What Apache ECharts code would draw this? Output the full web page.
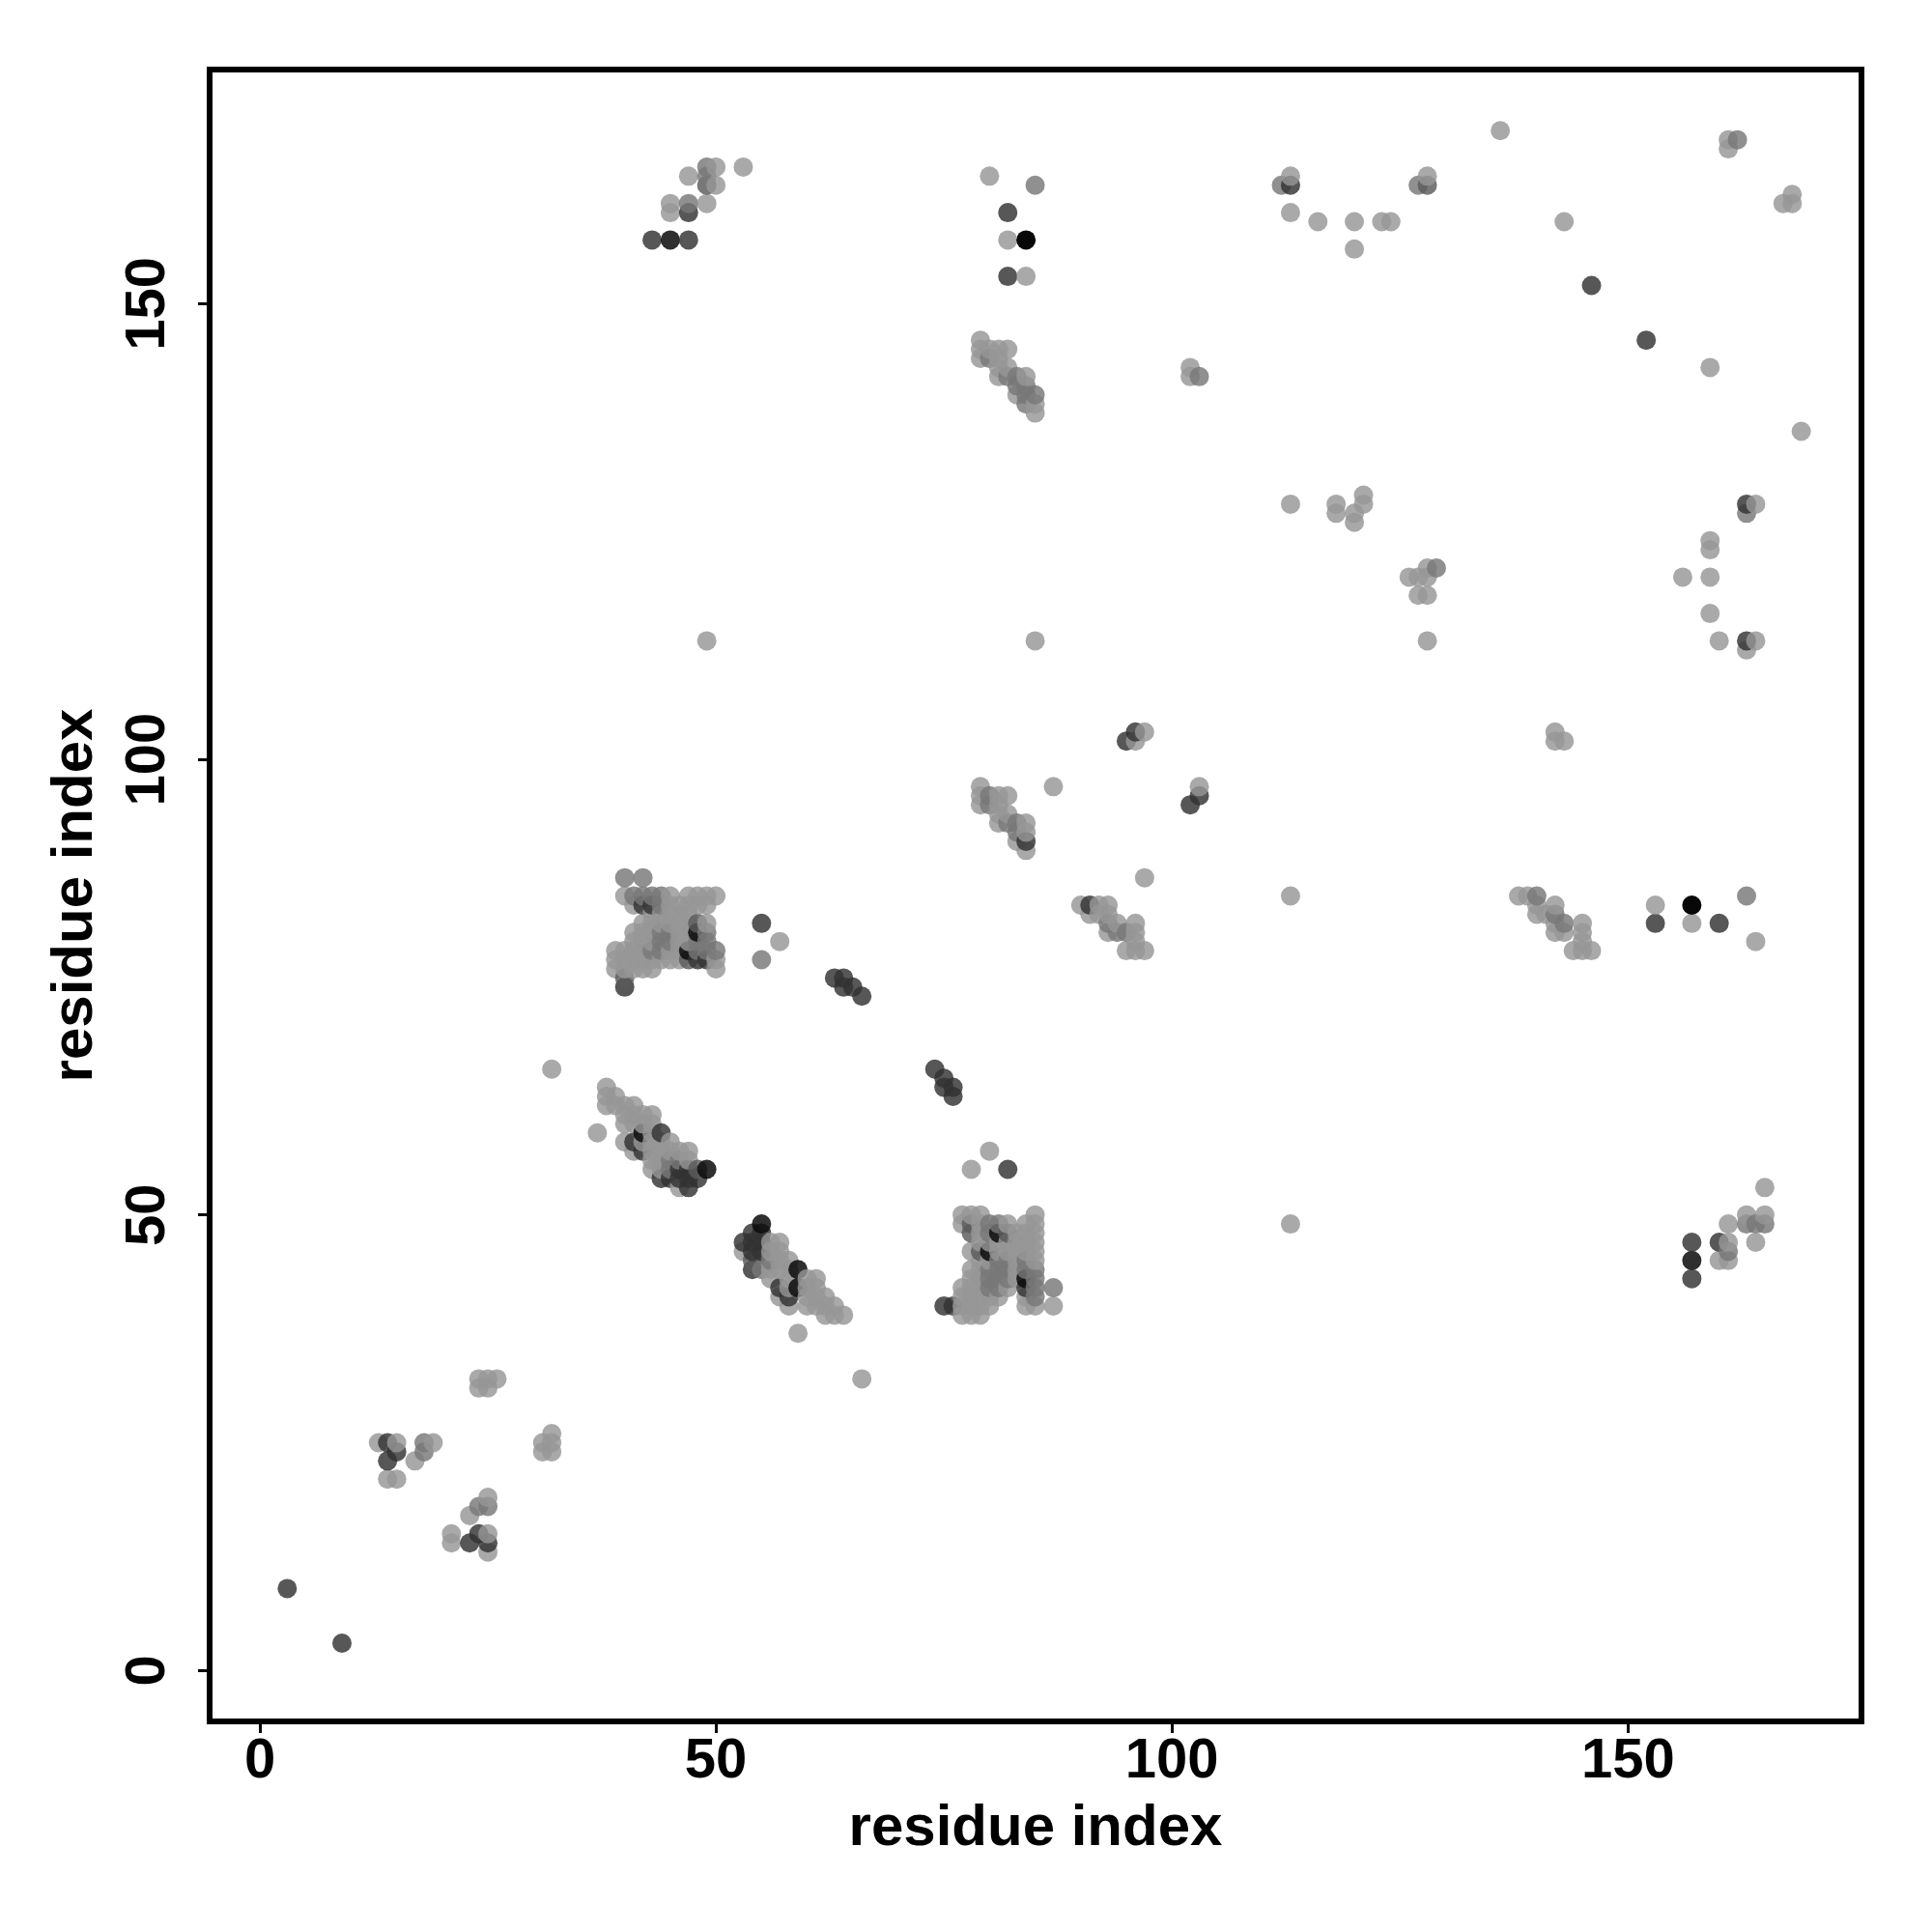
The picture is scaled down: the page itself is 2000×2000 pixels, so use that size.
<!DOCTYPE html>
<html><head><meta charset="utf-8">
<style>html,body{margin:0;padding:0;background:#fff}#c{width:2000px;height:2000px}</style>
<script src="https://cdn.jsdelivr.net/npm/echarts@6/dist/echarts.min.js"></script>
</head><body><div id="c"></div>
<script>
const xTicks = [0, 50, 100, 150];
const yTicks = [0, 50, 100, 150];
const xTitle = 'residue index';
const yTitle = 'residue index';

const lightPts = [
[13,25],[15,25],[19,25],[17,23],[14,21],[15,21],[24,32],[25,32],[26,32],[24,31],[25,31],[32,26],[31,25],[32,25],[31,24],[32,24],
[25,19],[23,17],[21,15],[21,14],[25,15],[25,13],[66,32],[32,66],
[37,59],[38,64],[38,63],[38,62],[39,63],[39,62],[40,62],[40,61],[41,62],[41,61],[42,61],[43,61],[40,60],[41,60],[42,60],[43,60],[43,59],
[40,58],[42,58],[43,58],[44,58],[45,58],[41,57],[43,57],[44,57],[45,57],[46,57],[47,57],[43,56],[44,56],[47,56],[43,55],[44,55],[46,53],
[53,46],[56,47],[57,47],[56,46],[57,46],[57,45],[58,45],[56,44],[57,44],[58,44],[56,43],[58,43],[58,42],[57,41],[58,40],[60,43],[61,43],[60,42],[61,42],[60,41],[61,41],[62,41],[60,40],[61,40],[62,40],[63,40],[62,39],[63,39],[64,39],[59,37],
[40,85],[45,85],[47,85],[48,85],[49,85],[50,85],[41,84],[45,84],[46,84],[47,84],[48,84],[49,84],[43,83],[44,83],[45,83],[46,83],[47,83],[42,82],[43,82],[44,82],[45,82],[46,82],[47,82],[49,82],
[41,81],[42,81],[43,81],[46,81],[47,81],[41,80],[42,80],[43,80],[46,80],[47,80],[39,79],[40,79],[41,79],[42,79],[45,79],[46,79],[39,78],[40,78],[41,78],[42,78],[43,78],[44,78],[45,78],[46,78],[50,78],
[39,77],[40,77],[41,77],[42,77],[43,77],[50,77],[57,80],
[77,50],[78,50],[79,50],[85,50],[77,49],[79,49],[82,49],[84,49],[85,49],[79,48],[83,48],[84,48],[85,48],[79,47],[80,47],[81,47],[82,47],[83,47],[84,47],[85,47],[78,46],[81,46],[82,46],[83,46],[84,46],[85,46],
[79,45],[80,45],[83,45],[85,45],[78,44],[79,44],[83,44],[78,43],[79,43],[83,43],[77,42],[78,42],[79,42],[82,42],[77,41],[78,41],[79,41],[80,41],[81,41],[84,41],[77,40],[78,40],[79,40],[80,40],[84,40],[85,40],[87,40],[77,39],[78,39],[79,39],[78,55],[80,57],
[79,146],[79,145],[79,144],[80,145],[81,145],[82,145],[81,144],[81,143],[82,143],[81,142],[84,142],[83,140],[85,139],[85,138],
[79,97],[79,96],[79,95],[81,96],[82,96],[81,95],[81,94],[82,94],[81,93],[84,93],[84,92],[83,91],[84,90],[87,97],
[90,84],[91,83],[92,84],[93,84],[92,83],[93,83],[94,82],[93,81],[96,82],[96,81],[96,80],[95,79],[96,79],[97,79],[97,87],
[138,85],[139,85],[140,84],[140,83],[142,84],[141,83],[142,82],[142,81],[143,81],[145,82],[145,81],[145,80],[144,79],[145,79],[146,79],
[45,161],[45,160],[49,161],[47,164],[50,165],[50,163],[53,165],
[161,47],[160,45],[161,45],[161,49],[163,50],[165,50],[164,47],[165,53],[113,49],
[80,164],[82,157],[84,153],[113,164],[113,160],[116,159],[120,159],[120,156],[123,159],[124,159],[128,164],[136,169],[143,159],[159,143],[161,167],[161,168],[167,161],[168,161],[168,162],[169,136],
[102,143],[102,142],[113,128],[118,128],[118,127],[120,127],[120,126],[121,128],[121,129],[126,120],[127,120],[128,120],[128,121],[127,118],[128,118],[128,113],[85,113],[49,113],
[156,120],[159,124],[159,123],[159,120],[159,116],[160,113],[164,128],[163,112],[164,113],[97,103],[96,102],[142,103],[142,102],[143,102],[103,97],[113,85],[153,84],[157,82],[164,80]
];
const midPts = [
[18,25],[18,24],[25,18],[24,18],[55,78],[40,87],[42,87],[41,85],[42,85],[43,85],[44,85],[44,84],[44,81],[45,81],[49,81],[44,80],[45,80],[48,80],[49,80],[43,79],[44,79],[48,79],[49,79],[50,79],
[45,56],[46,56],[45,55],[55,44],[56,45],[80,49],[81,49],[80,48],[81,45],[82,45],[84,45],[80,44],[81,44],[82,44],[84,44],[85,44],[80,43],[81,43],[82,43],[85,43],[80,42],[81,42],[85,42],[85,41],[87,42],
[80,144],[82,142],[83,142],[83,141],[84,141],[85,140],[84,140],[84,139],[80,96],[80,95],[82,93],[83,93],[83,92],[94,81],[95,81],[93,82],
[140,85],[142,83],[143,82],[47,161],[49,165],[49,164],[161,46],[85,163],[112,163],[127,163],[162,168],[103,142],[129,121],[163,127],[163,85],[163,49],[164,49],[165,49]
];
const dimPts = [
[40,76],[47,78],[48,82],[48,55],[54,45],[79,46],[78,49],[78,48],[82,48],[49,163],[128,163]
];
const darkPts = [
[3,9],[9,3],[14,25],[15,24],[14,23],[24,15],[23,14],[25,14],[41,58],[42,57],[44,59],[44,54],[45,54],[46,55],[46,54],[47,55],[47,54],[47,53],[48,54],
[54,48],[53,47],[54,47],[55,48],[54,46],[55,47],[55,46],[54,44],[57,42],[58,41],[42,84],[43,84],[48,78],[49,78],[40,75],[55,82],
[63,76],[64,76],[64,75],[65,75],[66,74],[74,66],[75,65],[75,64],[76,64],[76,63],[82,55],[75,40],[76,40],[84,42],
[84,91],[91,84],[43,157],[47,157],[47,160],[157,47],[157,43],[160,47],[82,160],[82,153],[113,163],[146,152],[152,146],[163,128],[163,113],[96,103],[95,102],[102,95],[103,96],[153,82],[160,82]
];
const nearBlackPts = [
[42,59],[49,55],[55,49],[59,44],[59,42],[48,81],[47,79],[81,48],[80,46],[84,43],[45,157],[157,45]
];
const blackPts = [[84,157],[157,84]];

const levels = [
  [lightPts, 'rgba(150,150,150,0.82)'],
  [midPts, 'rgba(120,120,120,0.82)'],
  [dimPts, 'rgba(90,90,90,0.82)'],
  [darkPts, 'rgba(50,50,50,0.82)'],
  [nearBlackPts, 'rgba(10,10,10,0.85)'],
  [blackPts, 'rgba(0,0,0,0.97)']
];
const byKey = new Map();
levels.forEach(function (lv) {
  lv[0].forEach(function (p) { byKey.set(p[0] + '_' + p[1], { value: p, itemStyle: { color: lv[1], opacity: 1 } }); });
});
const points = Array.from(byKey.values()).sort(function (a, b) {
  return a.value[0] - b.value[0] || a.value[1] - b.value[1];
});

const font = 'Liberation Sans';
const chart = echarts.init(document.getElementById('c'), null, { renderer: 'canvas' });
chart.setOption({
  animation: false,
  backgroundColor: '#fff',
  grid: { left: 217, top: 72, width: 1710, height: 1710, show: true, borderColor: '#000', borderWidth: 6, backgroundColor: 'transparent' },
  xAxis: {
    type: 'value', min: -5.51, max: 175.6, splitLine: { show: false },
    axisLine: { show: false, onZero: false },
    axisTick: { show: true, length: 12, inside: false, customValues: xTicks, lineStyle: { color: '#000', width: 3 } },
    axisLabel: { customValues: xTicks, color: '#000', fontFamily: font, fontWeight: 'bold', fontSize: 58, margin: 13 },
    name: xTitle, nameLocation: 'middle', nameGap: 81,
    nameTextStyle: { color: '#000', fontFamily: font, fontWeight: 'bold', fontSize: 60 }
  },
  yAxis: {
    type: 'value', min: -5.59, max: 175.7, splitLine: { show: false },
    axisLine: { show: false, onZero: false },
    axisTick: { show: true, length: 12, inside: false, customValues: yTicks, lineStyle: { color: '#000', width: 3 } },
    axisLabel: { customValues: yTicks, rotate: 90, color: '#000', fontFamily: font, fontWeight: 'bold', fontSize: 58, margin: 34 },
    name: yTitle, nameLocation: 'middle', nameGap: 109,
    nameTextStyle: { color: '#000', fontFamily: font, fontWeight: 'bold', fontSize: 60 }
  },
  series: [{ type: 'scatter', symbol: 'circle', symbolSize: 20, data: points, large: false, progressive: 0, silent: true }]
});
</script></body></html>
